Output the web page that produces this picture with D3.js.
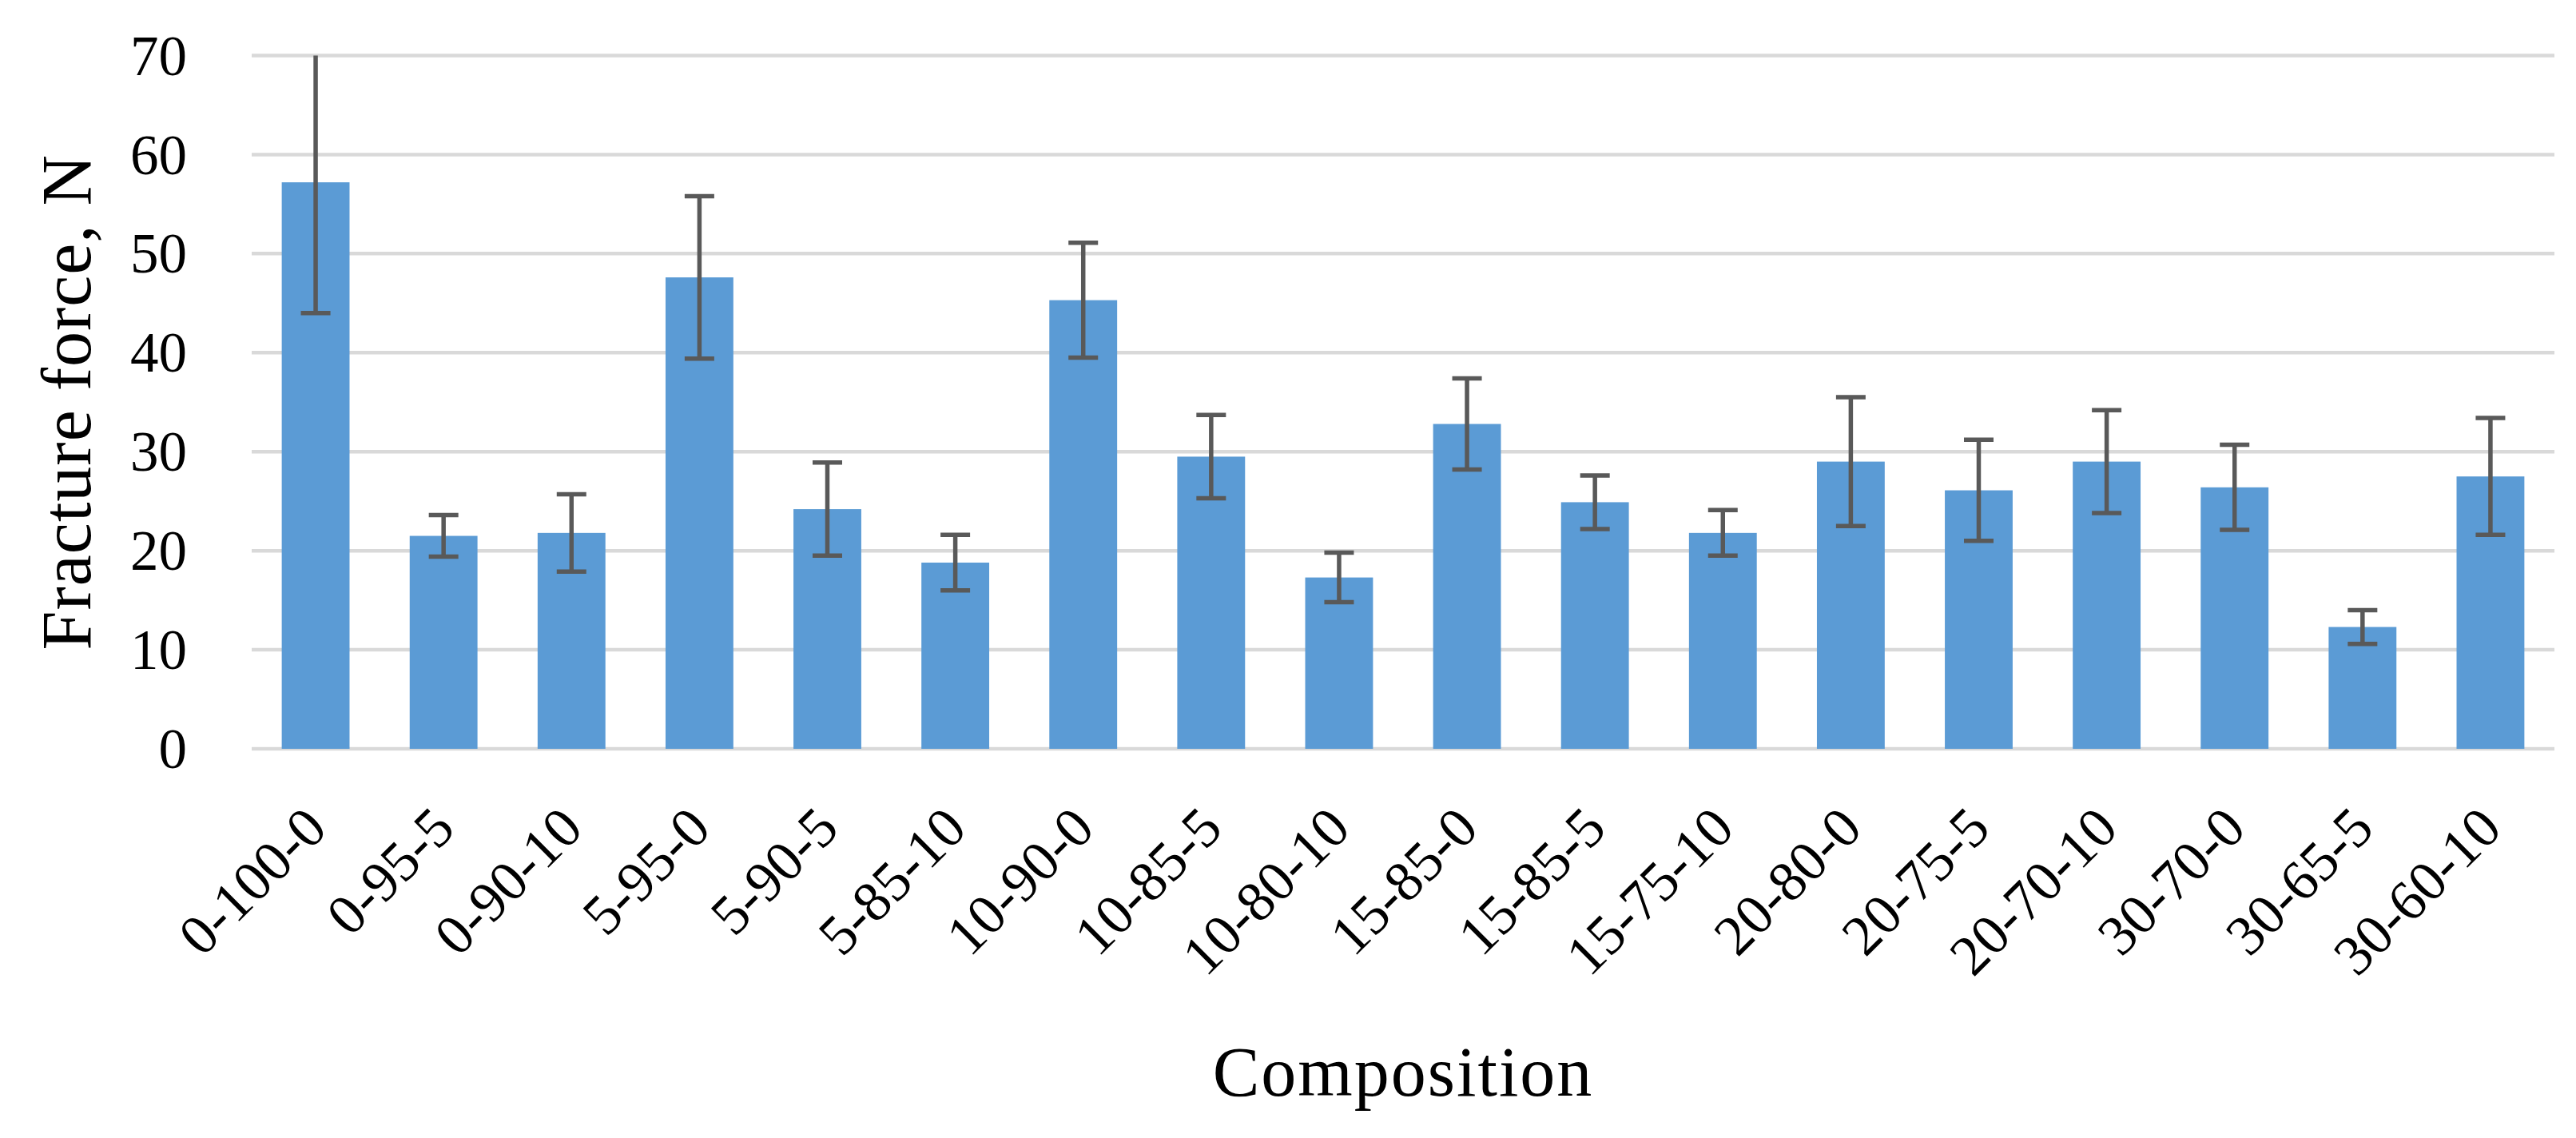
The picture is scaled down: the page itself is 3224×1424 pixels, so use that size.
<!DOCTYPE html>
<html>
<head>
<meta charset="utf-8">
<script src="https://cdn.jsdelivr.net/npm/d3@7"></script>
<style>
  html, body { margin: 0; padding: 0; background: #ffffff; }
  svg { display: block; }
  text { font-family: "Liberation Serif", "DejaVu Serif", serif; fill: #000; }
</style>
</head>
<body>
<script>
const categories = ["0-100-0","0-95-5","0-90-10","5-95-0","5-90-5","5-85-10","10-90-0","10-85-5","10-80-10","15-85-0","15-85-5","15-75-10","20-80-0","20-75-5","20-70-10","30-70-0","30-65-5","30-60-10"];
const means = [57.2,21.5,21.8,47.6,24.2,18.8,45.3,29.5,17.3,32.8,24.9,21.8,29.0,26.1,29.0,26.4,12.3,27.5];
const errors = [13.2,2.1,3.9,8.2,4.7,2.8,5.8,4.2,2.5,4.6,2.7,2.3,6.5,5.1,5.2,4.3,1.7,5.9];
const yTicks = [0,10,20,30,40,50,60,70];
const yTitle = "Fracture force, N";
const xTitle = "Composition";

(function () {
const W = 3224, H = 1424;
const plotLeft = 315, plotRight = 3197, plotTop = 69.5, plotBottom = 937;

const svg = d3.select("body").append("svg").attr("width", W).attr("height", H);
svg.append("rect").attr("width", W).attr("height", H).attr("fill", "#fff");

const x = d3.scaleBand().domain(categories).range([plotLeft, plotRight]).paddingInner(0.47).paddingOuter(0.235);
const y = d3.scaleLinear().domain([0, 70]).range([plotBottom, plotTop]);

// gridlines
svg.append("g").selectAll("line").data(yTicks).join("line")
  .attr("x1", plotLeft).attr("x2", plotRight)
  .attr("y1", d => y(d)).attr("y2", d => y(d))
  .attr("stroke", "#d9d9d9").attr("stroke-width", 4.5);

// y tick labels
svg.append("g").selectAll("text").data(yTicks).join("text")
  .attr("x", 234).attr("y", d => y(d)).attr("dy", "0.34em")
  .attr("text-anchor", "end").attr("font-size", 71)
  .text(d => d);

// bars
svg.append("g").selectAll("rect").data(categories).join("rect")
  .attr("x", d => x(d)).attr("width", x.bandwidth())
  .attr("y", (d, i) => y(means[i])).attr("height", (d, i) => y(0) - y(means[i]))
  .attr("fill", "#5b9bd5");

// error bars
const eb = svg.append("g").attr("stroke", "#595959").attr("stroke-width", 5.5).attr("fill", "none");
const capHalf = 18.5;
const yMax = y.domain()[1];
categories.forEach((c, i) => {
  const cx = x(c) + x.bandwidth() / 2;
  const hi = means[i] + errors[i];
  const lo = means[i] - errors[i];
  const hiC = Math.min(hi, yMax);
  eb.append("line").attr("x1", cx).attr("x2", cx).attr("y1", y(hiC)).attr("y2", y(lo));
  if (hi <= yMax) {
    eb.append("line").attr("x1", cx - capHalf).attr("x2", cx + capHalf).attr("y1", y(hi)).attr("y2", y(hi));
  }
  eb.append("line").attr("x1", cx - capHalf).attr("x2", cx + capHalf).attr("y1", y(lo)).attr("y2", y(lo));
});

// x tick labels
svg.append("g").selectAll("text").data(categories).join("text")
  .attr("transform", d => `translate(${x(d) + x.bandwidth() / 2 + 17},${1040}) rotate(-45)`)
  .attr("text-anchor", "end").attr("font-size", 71)
  .text(d => d);

// axis titles
svg.append("text")
  .attr("transform", `translate(113,${(plotTop + plotBottom) / 2}) rotate(-90)`)
  .attr("text-anchor", "middle").attr("font-size", 88).attr("letter-spacing", 1)
  .text(yTitle);

svg.append("text")
  .attr("x", (plotLeft + plotRight) / 2).attr("y", 1371)
  .attr("text-anchor", "middle").attr("font-size", 88).attr("letter-spacing", 2)
  .text(xTitle);
})();
</script>
</body>
</html>
